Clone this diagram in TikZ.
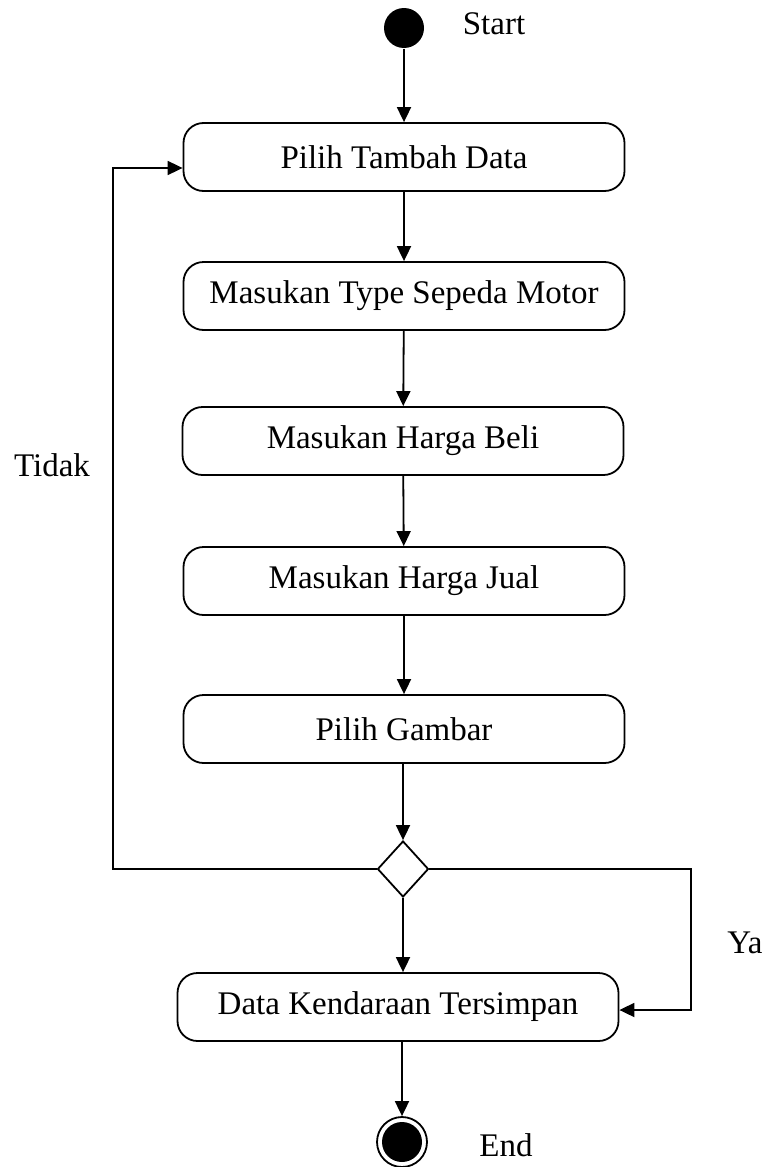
\documentclass[tikz,border=0pt]{standalone}
\usepackage{fontspec}
\setmainfont{Liberation Serif}
\usetikzlibrary{arrows.meta,shapes.geometric}
\begin{document}
\begin{tikzpicture}[x=1pt,y=-1pt,
  font=\fontsize{33}{38}\selectfont,
  line width=1.8pt,
  action/.style={draw,rounded corners=20pt,minimum width=441pt,minimum height=68pt,inner sep=0pt},
  flow/.style={-{Triangle[length=15pt,width=14pt]}},
  label/.style={inner sep=0pt}]
\useasboundingbox (0,0) rectangle (767,1167);
% initial and final states
\node[circle,fill=black,minimum size=40pt,inner sep=0pt] (start) at (404,28) {};
\node[label] at (494,24) {Start};
\node[circle,draw,minimum size=50pt,inner sep=0pt] (end) at (402,1142) {};
\node[circle,fill=black,minimum size=40pt,inner sep=0pt] at (end.center) {};
\node[label] at (506,1145) {End};
% activities
\node[action] (b1) at (404,157) {Pilih Tambah Data};
\node[action] (b2) at (404,296) {Masukan Type Sepeda Motor};
\node[action] (b3) at (403,441) {Masukan Harga Beli};
\node[action] (b4) at (404,581) {Masukan Harga Jual};
\node[action] (b5) at (404,729) {Pilih Gambar};
\node[diamond,draw,minimum width=51pt,minimum height=56pt,inner sep=0pt] (dec) at (403,869) {};
\node[action] (b6) at (398,1007) {Data Kendaraan Tersimpan};
% guard labels
\node[label] at (52,465) {Tidak};
\node[label] at (745,943) {Ya};
% corners of the two branches
\coordinate (loopx) at (113,869);
\coordinate (yax) at (691,869);
% transitions
\draw[flow] (start) -- (b1);
\draw[flow] (b1) -- (b2);
\draw[flow] (b2) -- (b3);
\draw[flow] (b3) -- (b4);
\draw[flow] (b4) -- (b5);
\draw[flow] (b5.south -| dec.north) -- (dec.north);
\draw[flow] (dec.south) -- (dec.south |- b6.north);
\draw[flow] (b6.south -| end.north) -- (end.north);
\draw[flow] (dec.west) -- (loopx) |- ([yshift=-11pt]b1.west);
\draw[flow] (dec.east) -- (yax) |- ([yshift=-3pt]b6.east);
\end{tikzpicture}
\end{document}
